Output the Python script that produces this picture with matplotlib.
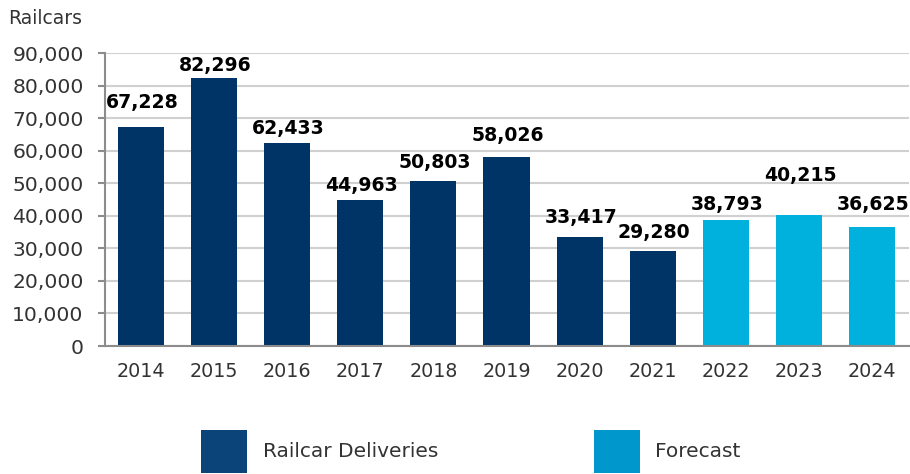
import matplotlib
matplotlib.use("Agg")
import matplotlib.pyplot as plt
from matplotlib.patches import Patch
from matplotlib.ticker import FuncFormatter

# ---- data ----
years = ["2014", "2015", "2016", "2017", "2018", "2019", "2020", "2021", "2022", "2023", "2024"]
deliveries = [67228, 82296, 62433, 44963, 50803, 58026, 33417, 29280, 38793, 40215, 36625]
is_forecast = [False] * 8 + [True] * 3
series_names = ["Railcar Deliveries", "Forecast"]
y_ticks = [0, 10000, 20000, 30000, 40000, 50000, 60000, 70000, 80000, 90000]
y_title = "Railcars"

# ---- styles ----
bar_dark = "#003366"
bar_light = "#00b0dd"
leg_dark = "#0a4479"
leg_light = "#0097cd"
label_offsets_px = [24.5, 13, 14, 14, 18, 21.5, 19.5, 18, 15, 39.5, 22]  # label placement above bar top

plt.rcParams['font.family'] = ['DejaVu Sans']

fig = plt.figure(figsize=(9.10, 4.74), dpi=100)
ax = fig.add_axes([104.5 / 910, 128 / 474, 804 / 910, 293 / 474])

x = list(range(len(years)))
colors = [bar_light if f else bar_dark for f in is_forecast]
bars = ax.bar(x, deliveries, width=0.63, color=colors, zorder=3)

for xi, v, off in zip(x, deliveries, label_offsets_px):
    ax.annotate(f"{v:,}", xy=(xi, v), xytext=(1.5 * 0.72, off * 0.72),
                textcoords="offset points", ha="center", va="center",
                fontsize=13.6, fontweight="bold", color="black", zorder=5)

ax.set_xlim(-0.5, len(years) - 0.5)
ax.set_ylim(0, 90000)
ax.set_yticks(y_ticks)
ax.yaxis.set_major_formatter(FuncFormatter(lambda v, p: f"{int(v):,}"))
ax.set_xticks(x)
ax.set_xticklabels(years)

ax.grid(axis="y", color="#d0d0d0", linewidth=1.5, zorder=0)
ax.set_axisbelow(True)
for s in ["top", "right"]:
    ax.spines[s].set_visible(False)
for s in ["left", "bottom"]:
    ax.spines[s].set_color("#8c8c8c")
    ax.spines[s].set_linewidth(1.5)
    ax.spines[s].set_zorder(4)

ax.tick_params(axis="y", length=5, width=1.5, color="#8c8c8c", pad=10,
               labelsize=14.6, labelcolor="#333333")
ax.tick_params(axis="x", length=0, pad=11.5, labelsize=13.8, labelcolor="#333333")

fig.text(8 / 910, 1 - 18 / 474, y_title, ha="left", va="center",
         fontsize=13.5, color="#333333")

handles = [Patch(facecolor=leg_dark, edgecolor="none"),
           Patch(facecolor=leg_light, edgecolor="none")]
fig.legend(handles, series_names, loc="center", bbox_to_anchor=(471 / 910, 22.5 / 474),
           ncol=2, frameon=False, fontsize=14.5, handlelength=2.29, handleheight=2.91,
           handletextpad=0.75, columnspacing=7.75, borderpad=0, borderaxespad=0,
           labelcolor="#333333")

fig.savefig("out.png", dpi=100)
